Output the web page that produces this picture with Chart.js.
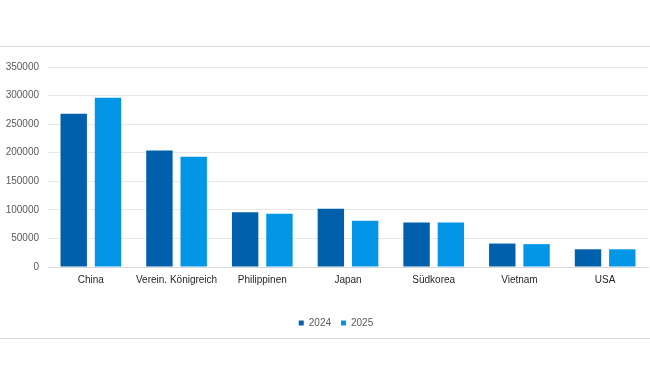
<!DOCTYPE html>
<html>
<head>
<meta charset="utf-8">
<script src="https://cdn.jsdelivr.net/npm/chart.js@4"></script>
<style>
    html, body { margin: 0; padding: 0; background: #fff; }
    #frame {
        position: absolute;
        left: 0; top: 46px;
        width: 650px; height: 291px;
        border-top: 1px solid #d9d9d9;
        border-bottom: 1px solid #d9d9d9;
    }
    #box { position: absolute; left: 0; top: 0; width: 650px; height: 291px; }
</style>
</head>
<body>
<div id="frame"><div id="box"><canvas id="chart"></canvas></div></div>
<script>
// Categories and values
const countries = ['China', 'Verein. Königreich', 'Philippinen', 'Japan', 'Südkorea', 'Vietnam', 'USA'];
const values2024 = [268000, 204000, 96000, 102000, 78000, 41000, 31000];
const values2025 = [296000, 193000, 93000, 81000, 78000, 40000, 31000];
const yTicks = [0, 50000, 100000, 150000, 200000, 250000, 300000, 350000];

const tickFont = { family: 'Liberation Sans, Arial, sans-serif', size: 10 };

// legend sits a bit right of the canvas centre in the original
const legendShift = {
    id: 'legendShift',
    afterLayout(chart) {
        chart.legend.left += 18;
    }
};

const ctx = document.getElementById('chart').getContext('2d');
new Chart(ctx, {
    type: 'bar',
    data: {
        labels: countries,
        datasets: [
            {
                label: '2024',
                data: values2024,
                backgroundColor: '#0160ab',
                categoryPercentage: 0.8,
                barPercentage: 0.77
            },
            {
                label: '2025',
                data: values2025,
                backgroundColor: '#0496e6',
                categoryPercentage: 0.8,
                barPercentage: 0.77
            }
        ]
    },
    plugins: [legendShift],
    options: {
        responsive: true,
        maintainAspectRatio: false,
        animation: false,
        layout: { padding: { top: 20, right: 2, left: 6, bottom: 0 } },
        plugins: {
            legend: {
                position: 'bottom',
                labels: {
                    boxWidth: 5,
                    boxHeight: 5,
                    padding: 10,
                    color: '#595959',
                    font: tickFont
                }
            },
            tooltip: { enabled: false }
        },
        scales: {
            x: {
                grid: { display: false, drawTicks: false },
                border: { color: '#d9d9d9' },
                ticks: { color: '#262626', font: tickFont, maxRotation: 0, padding: 7 },
                afterFit: axis => { axis.height = 41; }
            },
            y: {
                min: 0,
                max: 350000,
                afterBuildTicks: axis => { axis.ticks = yTicks.map(v => ({ value: v })); },
                grid: { color: '#e8e8e8', drawTicks: false },
                border: { display: false },
                ticks: {
                    color: '#595959',
                    font: tickFont,
                    padding: 9,
                    callback: v => String(v)
                },
                afterFit: axis => { axis.width = 42; }
            }
        }
    }
});
</script>
</body>
</html>
